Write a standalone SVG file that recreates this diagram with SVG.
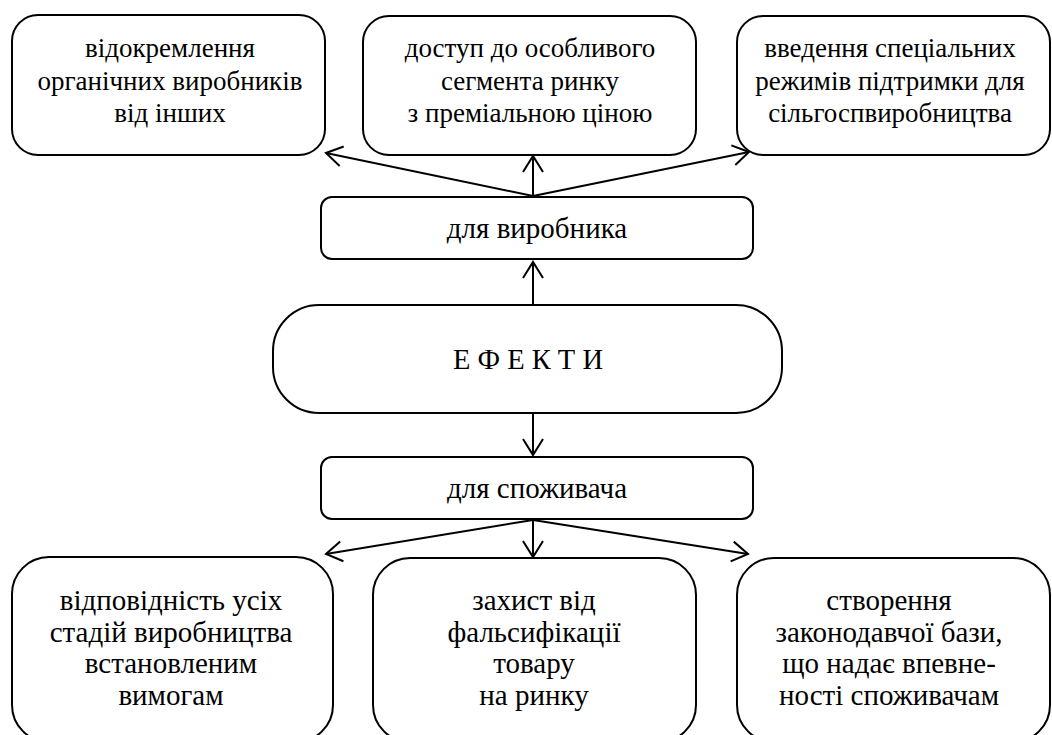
<svg xmlns="http://www.w3.org/2000/svg" width="1052" height="735" viewBox="0 0 1052 735">
<style>
.box{fill:#fff;stroke:#000;stroke-width:2}
text{font-family:'Liberation Serif','Times New Roman',serif;font-size:27px;fill:#000;text-anchor:middle}
.m{font-size:29px}
.big{font-size:28.5px}
.b{font-size:29px}
.c{fill:none;stroke:#000;stroke-width:2}
</style>
<defs>
<marker id="ah" markerUnits="userSpaceOnUse" viewBox="0 0 18 22" markerWidth="18" markerHeight="22" refX="17" refY="11" orient="auto" overflow="visible">
<path d="M1,1 L17,11 L1,21" fill="none" stroke="#000" stroke-width="2"/>
</marker>
</defs>
<rect width="1052" height="735" fill="#fff"/>
<g id="connectors">
<line class="c" x1="533" y1="196" x2="326" y2="153" marker-end="url(#ah)"/>
<line class="c" x1="533" y1="196" x2="533" y2="156" marker-end="url(#ah)"/>
<line class="c" x1="533" y1="196" x2="749" y2="152" marker-end="url(#ah)"/>
<line class="c" x1="533" y1="305" x2="533" y2="262" marker-end="url(#ah)"/>
<line class="c" x1="533" y1="413" x2="533" y2="455" marker-end="url(#ah)"/>
<line class="c" x1="533" y1="520" x2="326" y2="554" marker-end="url(#ah)"/>
<line class="c" x1="533" y1="520" x2="533" y2="557" marker-end="url(#ah)"/>
<line class="c" x1="533" y1="520" x2="748" y2="554" marker-end="url(#ah)"/>
</g>
<g id="n-separation">
<rect class="box" x="12" y="15" width="313" height="140" rx="26"/>
<text x="170" y="57">відокремлення</text>
<text x="170" y="90">органічних виробників</text>
<text x="170" y="122">від інших</text>
</g>
<g id="n-access">
<rect class="box" x="363" y="16" width="333" height="139" rx="26"/>
<text x="530" y="57">доступ до особливого</text>
<text x="530" y="90">сегмента ринку</text>
<text x="530" y="122">з преміальною ціною</text>
</g>
<g id="n-support">
<rect class="box" x="737" y="16" width="313" height="139" rx="26"/>
<text x="890" y="57">введення спеціальних</text>
<text x="890" y="90">режимів підтримки для</text>
<text x="890" y="122">сільгоспвиробництва</text>
</g>
<g id="n-producer">
<rect class="box" x="321" y="197" width="432" height="62" rx="11"/>
<text class="m" x="537" y="238">для виробника</text>
</g>
<g id="n-effects">
<rect class="box" x="273" y="305" width="509" height="108" rx="46"/>
<text class="big" x="528" y="369">Е Ф Е К Т И</text>
</g>
<g id="n-consumer">
<rect class="box" x="321" y="457" width="432" height="62" rx="11"/>
<text class="m" x="537" y="498">для споживача</text>
</g>
<g id="n-compliance">
<rect class="box" x="12" y="557" width="321" height="185" rx="37"/>
<text class="b" x="171" y="610">відповідність усіх</text>
<text class="b" x="171" y="642">стадій виробництва</text>
<text class="b" x="171" y="673">встановленим</text>
<text class="b" x="171" y="705">вимогам</text>
</g>
<g id="n-protection">
<rect class="box" x="373" y="558" width="323" height="184" rx="37"/>
<text class="b" x="534" y="610">захист від</text>
<text class="b" x="534" y="642">фальсифікації</text>
<text class="b" x="534" y="673">товару</text>
<text class="b" x="534" y="705">на ринку</text>
</g>
<g id="n-legislation">
<rect class="box" x="737" y="558" width="313" height="184" rx="37"/>
<text class="b" x="889" y="610">створення</text>
<text class="b" x="889" y="642">законодавчої бази,</text>
<text class="b" x="889" y="673">що надає впевне-</text>
<text class="b" x="889" y="705">ності споживачам</text>
</g>
</svg>
